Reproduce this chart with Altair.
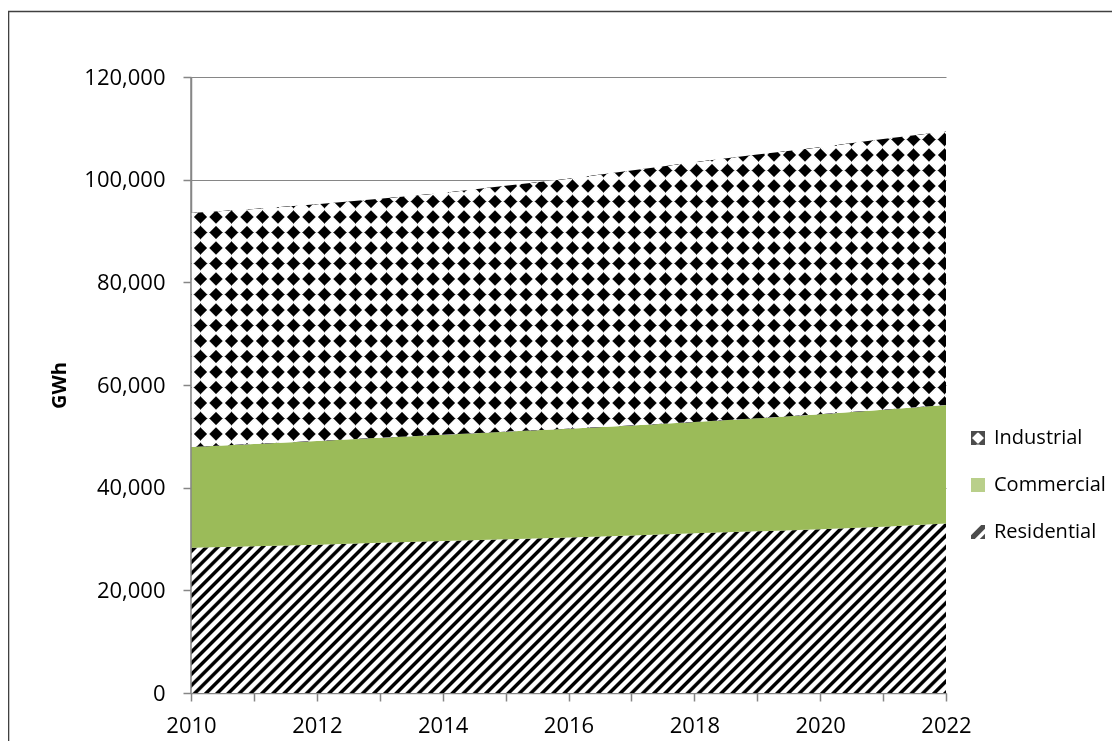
import altair as alt
import pandas as pd
import numpy as np

# ---------------- data ----------------
years = list(range(2010, 2023))
residential = [28300, 28600, 28900, 29250, 29600, 29950, 30300, 30700, 31100, 31500, 31900, 32400, 33000]
commercial = [19600, 19900, 20200, 20450, 20700, 20950, 21200, 21400, 21700, 22000, 22400, 22800, 23100]
industrial = [45600, 45800, 46100, 46600, 47100, 47900, 48700, 49700, 50600, 51400, 52000, 52700, 53300]
sectors = ["Industrial", "Commercial", "Residential"]
y_ticks = [0, 20000, 40000, 60000, 80000, 100000, 120000]
x_ticks = years

df = pd.DataFrame({"year": years, "residential": residential,
                   "commercial": commercial, "industrial": industrial})

# ---------------- layout ----------------
W, H = 755, 616
YMAX = 120000
FONT = "Open Sans"
AXIS_GREY = "#868686"


def ypix(v):
    return H * (1 - v / YMAX)


def stripe_gradient(w, h, period, phase, dark_frac, soft, direction, invert=False):
    L = w + h
    r = h / w
    k = (1 + r) / (1 + r * r)
    if direction == "up":      # "/" stripes : q = x + y
        x1, y1, x2, y2 = 0, 0, k, k * r
    else:                      # "\" stripes : q = x + (h - y)
        x1, y1, x2, y2 = 0, 1, k, 1 - k * r
    pts = []
    nmin = int(np.floor(-phase / period)) - 2
    nmax = int(np.ceil((L - phase) / period)) + 2
    for n in range(nmin, nmax + 1):
        b0 = phase + n * period
        b1 = b0 + dark_frac * period
        pts += [(b0 - soft / 2, 0.0), (b0 + soft / 2, 1.0),
                (b1 - soft / 2, 1.0), (b1 + soft / 2, 0.0)]
    xs = [p for p, _ in pts]
    vs = [v for _, v in pts]
    pos = [0.0] + [p for p in xs if 0 < p < L] + [L]
    stops = []
    for p in pos:
        v = float(np.interp(p, xs, vs))
        if invert:
            v = 1 - v
        g = int(round(255 * (1 - v)))
        stops.append({"offset": round(p / L, 6), "color": "#%02x%02x%02x" % (g, g, g)})
    return {"gradient": "linear", "x1": x1, "y1": y1, "x2": round(x2, 6), "y2": round(y2, 6),
            "stops": stops}


res_top = residential
com_top = [a + b for a, b in zip(residential, commercial)]
ind_top = [a + b for a, b in zip(com_top, industrial)]

# residential hatch bbox
res_bbox_top = ypix(max(res_top))
res_h = H - res_bbox_top
res_grad = stripe_gradient(W, res_h, 11.2, 3.0, 0.44, 1.6, "up")

# industrial diamonds: rotated checker (difference) thinned by white seams (lighten)
ind_bbox_top = ypix(max(ind_top))
ind_h = ypix(min(com_top)) - ind_bbox_top
s = 31.0
seam = 2.2
xc, yc = 9.5, 326 - ind_bbox_top
pa = xc + yc + s / 4
pb = xc + ind_h - yc + s / 4
ind_grad_a = stripe_gradient(W, ind_h, s, pa, 0.5, 1.6, "up")
ind_grad_b = stripe_gradient(W, ind_h, s, pb, 0.5, 1.6, "down")
ind_seam_a = stripe_gradient(W, ind_h, s / 2, pa - seam / 2, seam / (s / 2), 1.5, "up", invert=True)
ind_seam_b = stripe_gradient(W, ind_h, s / 2, pb - seam / 2, seam / (s / 2), 1.5, "down", invert=True)

base = alt.Chart(df).transform_calculate(
    zero="0",
    res_top="datum.residential",
    com_top="datum.residential + datum.commercial",
    ind_top="datum.residential + datum.commercial + datum.industrial",
)

x_enc = alt.X("year:Q", scale=alt.Scale(domain=[2010, 2022], nice=False), title=None,
              axis=alt.Axis(values=x_ticks, format="d", grid=False,
                            labelExpr="datum.value % 2 == 0 ? datum.label : ''",
                            tickSize=8, labelPadding=14, domainWidth=1.5,
                            labelFlush=False))
y_axis = alt.Axis(values=y_ticks, format=",d", grid=True, tickSize=8, labelPadding=18,
                  title="GWh", titleFontWeight="bold", titleFontSize=20,
                  titlePadding=14, domainWidth=1.5)

res_layer = base.mark_area(fill=res_grad, interpolate="linear").encode(
    x=x_enc,
    y=alt.Y("zero:Q", scale=alt.Scale(domain=[0, YMAX], nice=False), axis=y_axis),
    y2="res_top:Q",
)
com_layer = base.mark_area(fill="#9BBB59", interpolate="linear").encode(
    x="year:Q", y="res_top:Q", y2="com_top:Q")
ind_a = base.mark_area(fill=ind_grad_a, interpolate="linear").encode(
    x="year:Q", y="com_top:Q", y2="ind_top:Q")
ind_b = base.mark_area(fill=ind_grad_b, interpolate="linear", blend="difference").encode(
    x="year:Q", y="com_top:Q", y2="ind_top:Q")
ind_c = base.mark_area(fill=ind_seam_a, interpolate="linear", blend="lighten").encode(
    x="year:Q", y="com_top:Q", y2="ind_top:Q")
ind_d = base.mark_area(fill=ind_seam_b, interpolate="linear", blend="lighten").encode(
    x="year:Q", y="com_top:Q", y2="ind_top:Q")

# y-axis line redrawn above the areas
axis_line = alt.Chart(pd.DataFrame({"a": [0]})).mark_rule(
    color=AXIS_GREY, strokeWidth=1.5).encode(
    x=alt.value(0), y=alt.value(0), y2=alt.value(H))

# legend (symbols only, from an explicit scale domain)
ind_icon = ("M-1,-1 L0.15,-1 L-1,0.15 Z M1,-1 L1,0.15 L-0.15,-1 Z "
            "M1,1 L-0.15,1 L1,-0.15 Z M-1,1 L-1,-0.15 L0.15,1 Z "
            "M-0.25,-1 L0.25,-1 L0,-0.7 Z M-0.25,1 L0.25,1 L0,0.7 Z")
res_icon = ("M-1,1 L-1,0.45 L0.45,-1 L1,-1 L1,-0.45 L-0.45,1 Z "
            "M0.25,1 L1,0.25 L1,1 Z")
leg = alt.Legend(title=None, orient="none", legendX=777, legendY=351,
                 symbolSize=196, rowPadding=27, labelOffset=6,
                 symbolStrokeWidth=0, labelFontSize=20,
                 labelFont=FONT, labelColor="#000000", labelLimit=300)
legend_layer = alt.Chart(pd.DataFrame({"sector": sectors})).transform_filter(
    "false").mark_point(filled=True).encode(
    color=alt.Color("sector:N",
                    scale=alt.Scale(domain=sectors, range=["#000000", "#9BBB59", "#000000"]),
                    legend=leg),
    shape=alt.Shape("sector:N",
                    scale=alt.Scale(domain=sectors, range=[ind_icon, "square", res_icon]),
                    legend=leg),
)

frame = alt.Chart(pd.DataFrame({"a": [0]})).mark_rect(
    fill="#ffffff", fillOpacity=0, stroke="#404040", strokeWidth=1.6).encode(
    x=alt.value(-182.5), x2=alt.value(1100), y=alt.value(-65.5), y2=alt.value(800))

chart = alt.layer(frame, res_layer, com_layer, ind_a, ind_b, ind_c, ind_d,
                  axis_line, legend_layer).properties(
    width=W, height=H,
    padding={"left": 183, "top": 69, "right": 166, "bottom": 48},
    autosize=alt.AutoSizeParams(type="none"),
    background="#ffffff",
).configure_view(stroke=None).configure_axis(
    labelFont=FONT, labelFontSize=22, labelColor="#000000",
    titleFont=FONT, titleColor="#000000",
    domainColor=AXIS_GREY, tickColor=AXIS_GREY, gridColor=AXIS_GREY, gridWidth=1,
    tickWidth=1.5,
)

chart.save("out.html", embed_options={"renderer": "svg", "actions": False})
